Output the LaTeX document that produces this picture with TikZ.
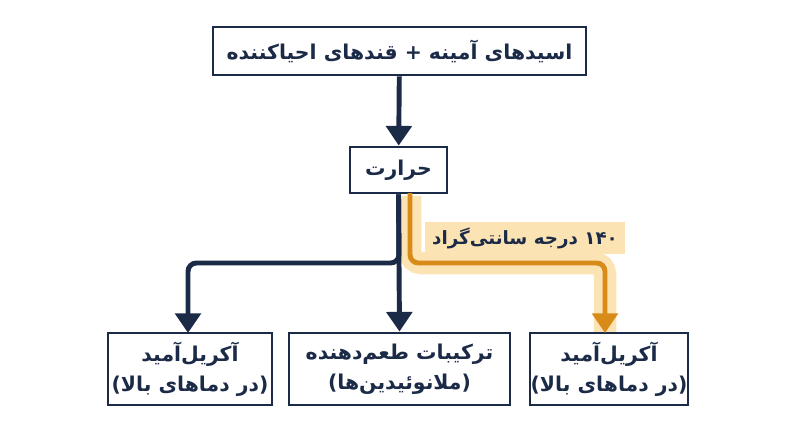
\documentclass[tikz,border=0pt]{standalone}
\usepackage{fontspec}
\newfontfamily\fa[Script=Arabic]{DejaVu Sans}
\usetikzlibrary{arrows.meta,positioning}
\TeXXeTstate=1
\newcommand{\rtl}[1]{\beginR #1\endR}
\definecolor{navy}{HTML}{1B2A47}
\definecolor{amber}{HTML}{D98B1A}
\definecolor{pale}{HTML}{FBE3B3}
\tikzset{
  box/.style={draw=navy, line width=2pt, fill=white, inner sep=0pt, align=center,
    font=\fa\bfseries\fontsize{14.5}{21}\selectfont, text=navy},
  link/.style={draw=navy, line width=3.5pt, rounded corners=6pt, -{Triangle[length=14pt,width=18pt]}},
  hot/.style={draw=amber, line width=3.5pt, rounded corners=6pt, -{Triangle[length=14pt,width=18pt]}},
}
\begin{document}
\begin{tikzpicture}[x=0.025cm,y=-0.025cm]
	\useasboundingbox (0,0) rectangle (800,447);
	
	%highlight band
	\fill[pale] (425,222) rectangle (625,254);
	\draw[pale, line width=16pt, rounded corners=8pt] (410,196) -- (410,263) -- (605,263) -- (605,333);
	\node[font=\fa\bfseries\fontsize{13}{15}\selectfont, text=navy] (temp) at (525,238) {\rtl{۱۴۰ درجه سانتی‌گراد}};
	
	%boxes
	\node[box, minimum width=373*0.025cm, minimum height=48*0.025cm] (sugar) at (399.5,51) {\rtl{اسیدهای آمینه + قندهای احیاکننده}};
	\node[box, minimum width=97*0.025cm, minimum height=46*0.025cm] (heat) at (398.5,170) {\rtl{حرارت}};
	\node[box, minimum width=164*0.025cm, minimum height=72*0.025cm] (left) at (190,369) {\rtl{آکریل‌آمید}\\\rtl{(در دماهای بالا)}};
	\node[box, minimum width=221*0.025cm, minimum height=72*0.025cm] (mid) at (399.5,369) {\rtl{ترکیبات طعم‌دهنده}\\\rtl{(ملانوئیدین‌ها)}};
	\node[box, minimum width=158*0.025cm, minimum height=72*0.025cm] (right) at (609,369) {\rtl{آکریل‌آمید}\\\rtl{(در دماهای بالا)}};
	
	\coordinate (split) at (399,263);
	\coordinate (hotsplit) at (410,193);
	
	%arrows
	\draw[link] (sugar) -- (heat);
	\draw[link] (heat.south) -- (mid.north);
	\draw[link] (heat.south) -- (split) -- (188,263) -- (188,333);
	\draw[hot] (hotsplit) -- (410,263) -- (605,263) -- (605,333);
\end{tikzpicture}
\end{document}
